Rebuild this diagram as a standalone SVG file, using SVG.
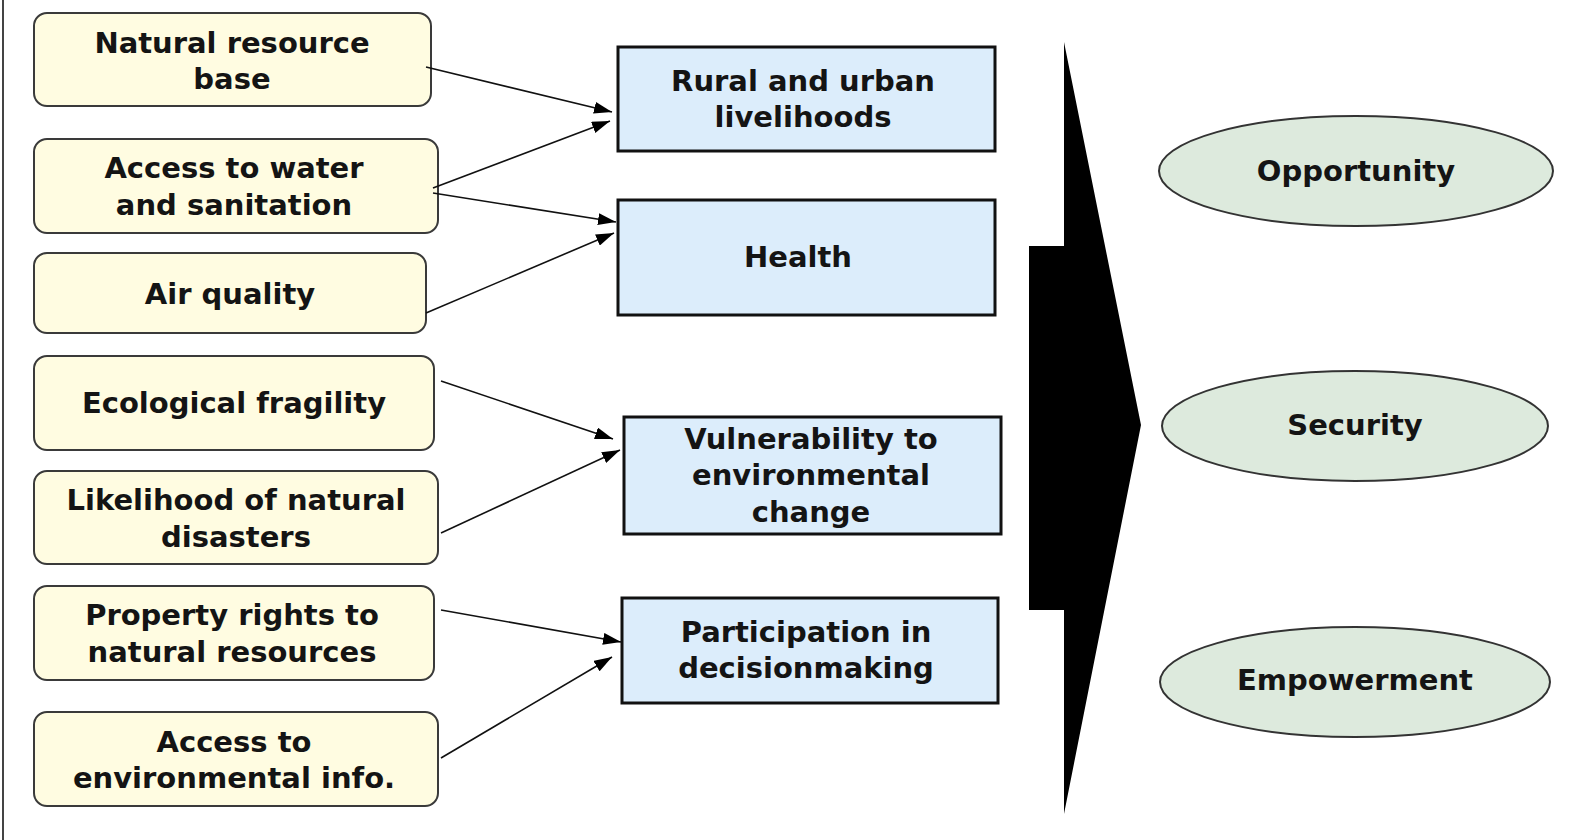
<svg xmlns="http://www.w3.org/2000/svg" width="1582" height="840" viewBox="0 0 1582 840">
<style>
.src rect{fill:#FFFCE1;stroke:#3a3a3a;stroke-width:2}
.mid rect{fill:#DCEDFB;stroke:#111;stroke-width:3}
.out ellipse{fill:#DDEADD;stroke:#333;stroke-width:2}
text{font-family:"DejaVu Sans","Liberation Sans",sans-serif;font-weight:bold;font-size:29px;fill:#141414;text-anchor:middle}
.conn line{stroke:#111;stroke-width:1.6;fill:none;marker-end:url(#ah)}
</style>
<defs>
<marker id="ah" markerUnits="userSpaceOnUse" markerWidth="18" markerHeight="12" refX="18" refY="6" orient="auto">
<path d="M0,0 L18,6 L0,12 z" fill="#000"/>
</marker>
</defs>
<rect width="1582" height="840" fill="#fff"/>
<line x1="3" y1="0" x2="3" y2="840" stroke="#444" stroke-width="2"/>
<g id="n1" class="src"><rect x="34" y="13" width="397" height="93" rx="13"/><text x="232" y="53">Natural resource</text><text x="232" y="89">base</text></g>
<g id="n2" class="src"><rect x="34" y="139" width="404" height="94" rx="13"/><text x="234" y="178">Access to water</text><text x="234" y="215">and sanitation</text></g>
<g id="n3" class="src"><rect x="34" y="253" width="392" height="80" rx="13"/><text x="230" y="304">Air quality</text></g>
<g id="n4" class="src"><rect x="34" y="356" width="400" height="94" rx="13"/><text x="234" y="413">Ecological fragility</text></g>
<g id="n5" class="src"><rect x="34" y="471" width="404" height="93" rx="13"/><text x="236" y="510">Likelihood of natural</text><text x="236" y="547">disasters</text></g>
<g id="n6" class="src"><rect x="34" y="586" width="400" height="94" rx="13"/><text x="232" y="625">Property rights to</text><text x="232" y="662">natural resources</text></g>
<g id="n7" class="src"><rect x="34" y="712" width="404" height="94" rx="13"/><text x="234" y="752">Access to</text><text x="234" y="788">environmental info.</text></g>
<g id="m1" class="mid"><rect x="618" y="47" width="377" height="104"/><text x="803" y="91">Rural and urban</text><text x="803" y="127">livelihoods</text></g>
<g id="m2" class="mid"><rect x="618" y="200" width="377" height="115"/><text x="798" y="267">Health</text></g>
<g id="m3" class="mid"><rect x="624" y="417" width="377" height="117"/><text x="811" y="449">Vulnerability to</text><text x="811" y="485">environmental</text><text x="811" y="522">change</text></g>
<g id="m4" class="mid"><rect x="622" y="598" width="376" height="105"/><text x="806" y="642">Participation in</text><text x="806" y="678">decisionmaking</text></g>
<g id="bigarrow"><path d="M1064,42 L1141,425 L1064,814 L1064,610 L1029,610 L1029,246 L1064,246 z" fill="#000"/></g>
<g id="o1" class="out"><ellipse cx="1356" cy="171" rx="197" ry="55"/><text x="1356" y="181">Opportunity</text></g>
<g id="o2" class="out"><ellipse cx="1355" cy="426" rx="193" ry="55"/><text x="1355" y="435">Security</text></g>
<g id="o3" class="out"><ellipse cx="1355" cy="682" rx="195" ry="55"/><text x="1355" y="690">Empowerment</text></g>
<g id="connectors" class="conn">
<line x1="426" y1="67" x2="612" y2="112"/>
<line x1="433" y1="188" x2="610" y2="121"/>
<line x1="433" y1="193" x2="616" y2="222"/>
<line x1="426" y1="313" x2="614" y2="233"/>
<line x1="441" y1="381" x2="613" y2="439"/>
<line x1="441" y1="533" x2="620" y2="450"/>
<line x1="441" y1="610" x2="621" y2="642"/>
<line x1="441" y1="758" x2="612" y2="657"/>
</g>
</svg>
